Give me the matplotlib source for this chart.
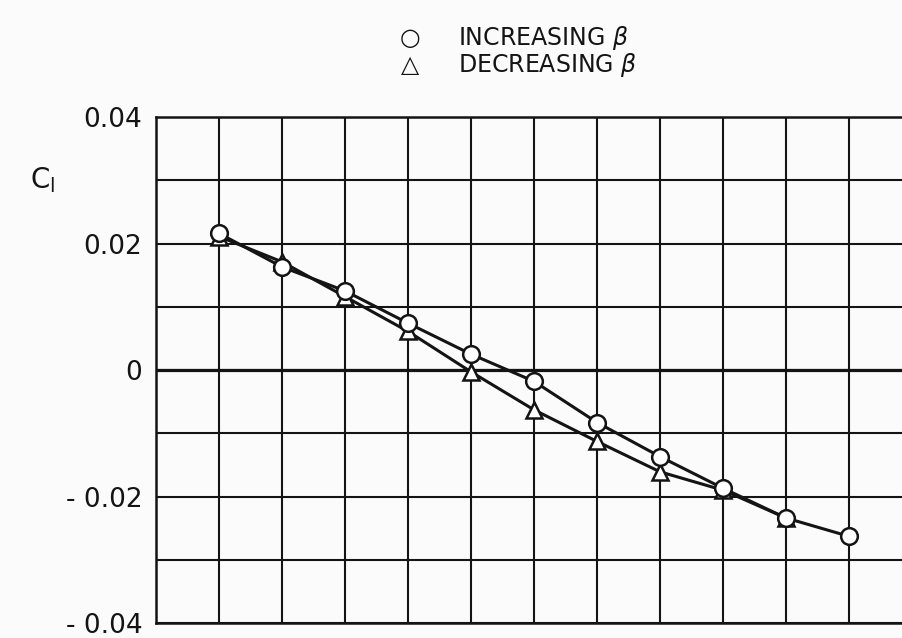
import matplotlib
matplotlib.use("Agg")
import matplotlib.pyplot as plt
import numpy as np

# Rolling moment coefficient vs sideslip step (grid units)
x_inc = [1, 2, 3, 4, 5, 6, 7, 8, 9, 10, 11]
cl_inc = [0.0216, 0.0163, 0.0125, 0.0074, 0.0025, -0.0018, -0.0083,
          -0.0137, -0.0187, -0.0234, -0.0263]
x_dec = [1, 2, 3, 4, 5, 6, 7, 8, 9, 10]
cl_dec = [0.0211, 0.0171, 0.0116, 0.0061, -0.0003, -0.0063, -0.0113,
          -0.0161, -0.0190, -0.0234]

y_ticks = [-0.04, -0.02, 0.0, 0.02, 0.04]
y_labels = ["- 0.04", "- 0.02", "0", "0.02", "0.04"]

ink = "#141414"
fig = plt.figure(figsize=(9.02, 6.38), dpi=100, facecolor="#fbfbfb")
ax = fig.add_axes([0.173, 0.0235, 0.827, 0.7931])
ax.set_facecolor("#fbfbfb")

ax.set_xlim(0, 11.84)
ax.set_ylim(-0.04, 0.04)
ax.set_xticks(np.arange(0, 12))
ax.set_xticklabels([])
ax.set_yticks(y_ticks)
ax.set_yticklabels(y_labels, fontsize=19, color=ink)
ax.set_yticks(np.arange(-0.04, 0.041, 0.01), minor=True)
ax.tick_params(which="both", length=0, pad=10)
ax.grid(True, which="both", color=ink, lw=1.5)
ax.axhline(0, color=ink, lw=2.3, zorder=1)
for s in ["left", "top", "bottom"]:
    ax.spines[s].set_color(ink)
    ax.spines[s].set_linewidth(1.8)
ax.spines["right"].set_visible(False)

ax.plot(x_dec, cl_dec, color=ink, lw=2.2, marker="^", ms=12,
        mfc="white", mec=ink, mew=1.8, zorder=3, clip_on=False)
ax.plot(x_inc, cl_inc, color=ink, lw=2.2, marker="o", ms=12,
        mfc="white", mec=ink, mew=1.8, zorder=4, clip_on=False)

fig.text(0.033, 0.705, r"C$_\mathregular{l}$", fontsize=20, color=ink)

# legend drawn as text like the original figure
fig.text(0.455, 0.94, "○", fontsize=17, color=ink, ha="center", va="center")
fig.text(0.508, 0.94, r"INCREASING $\beta$", fontsize=17, color=ink, va="center")
fig.text(0.455, 0.898, "△", fontsize=17, color=ink, ha="center", va="center")
fig.text(0.508, 0.898, r"DECREASING $\beta$", fontsize=17, color=ink, va="center")

plt.savefig("out.png", dpi=100, facecolor=fig.get_facecolor())
